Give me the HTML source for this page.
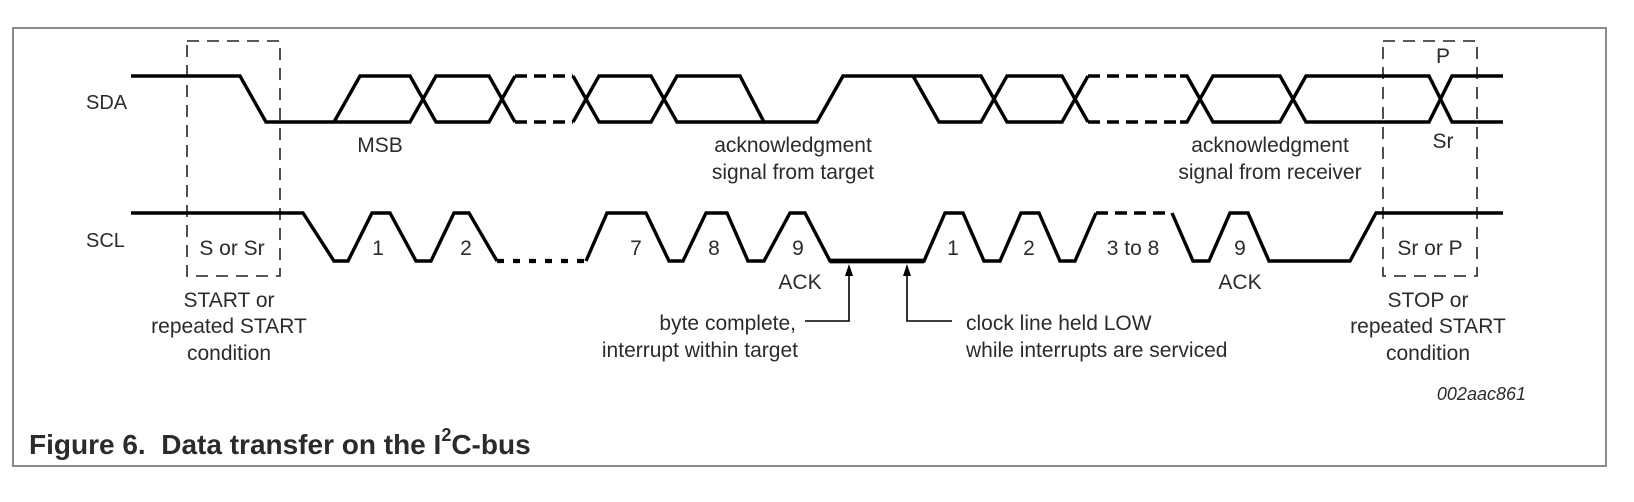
<!DOCTYPE html>
<html><head><meta charset="utf-8"><style>
html,body{margin:0;padding:0;background:#fff;}
svg{display:block;}
text{font-family:"Liberation Sans",Arial,sans-serif;fill:#2b2b2b;}
</style></head><body>
<svg width="1634" height="502" viewBox="0 0 1634 502" xmlns="http://www.w3.org/2000/svg">
<rect x="13" y="28" width="1593" height="438" fill="#fff" stroke="#8a8a8a" stroke-width="2"/>
<!-- dashed boxes -->
<g fill="none" stroke="#222" stroke-width="1.6" stroke-dasharray="12 8">
<rect x="187" y="41" width="93" height="235"/>
<rect x="1383" y="41" width="94" height="235"/>
</g>
<!-- SDA -->
<g fill="none" stroke="#000" stroke-width="3.4" stroke-linejoin="miter">
<path d="M131,76 H240 L266,122 H410 L436,76 H489 L515,122"/>
<path d="M334,122 L360,76 H410 L436,122 H489 L515,76"/>
<path d="M573,76 L599,122 H651 L677,76 H740 L764,122 H817 L843,76 H981 L1007,122 H1062 L1088,76"/>
<path d="M573,122 L599,76 H651 L677,122 H764"/>
<path d="M913,76 L939,122 H981 L1007,76 H1062 L1088,122"/>
<path d="M1180,76 H1187 L1213,122 H1280 L1306,76 H1429 L1452,122 H1503"/>
<path d="M1180,122 H1187 L1213,76 H1280 L1306,122 H1429 L1452,76 H1503"/>
<path d="M515,76 H573 M515,122 H573 M1088,76 H1180 M1088,122 H1180" stroke-dasharray="12 7"/>
<!-- SCL -->
<path d="M131,213 H303 L334,261 H348 L372,213 H390 L416,261 H431 L454,213 H469 L497,261"/>
<path d="M497,261 H586" stroke-dasharray="7 9" stroke-width="4.2"/>
<path d="M586,261 L607,213 H646 L669,261 H683 L706,213 H727 L748,261 H764 L790,213 H805 L830,261 H924 L945,213 H963 L984,261 H1000 L1021,213 H1039 L1060,261 H1075 L1096,213"/>
<path d="M1096,213 H1172" stroke-dasharray="12 7"/>
<path d="M1172,213 L1193,261 H1209 L1230,213 H1248 L1269,261 H1350 L1376,213 H1503"/>
<path d="M830,261 H924" stroke-width="4.8"/>
</g>
<!-- leaders & arrows -->
<g fill="none" stroke="#000" stroke-width="1.6">
<path d="M805,321 H849 V268"/>
<path d="M952,321 H907 V268"/>
</g>
<path d="M849,264 L845,276 L853,276 Z M907,264 L903,276 L911,276 Z" fill="#000"/>
<!-- labels -->
<g font-size="20">
<text x="86" y="109">SDA</text>
<text x="86" y="247">SCL</text>
</g>
<g font-size="21" text-anchor="middle">
<text x="232" y="255">S or Sr</text>
<text x="378" y="255">1</text>
<text x="466" y="255">2</text>
<text x="636" y="255">7</text>
<text x="714" y="255">8</text>
<text x="798" y="255">9</text>
<text x="800" y="289">ACK</text>
<text x="953" y="255">1</text>
<text x="1029" y="255">2</text>
<text x="1133" y="255">3 to 8</text>
<text x="1240" y="255">9</text>
<text x="1240" y="289">ACK</text>
<text x="1430" y="255">Sr or P</text>
<text x="1443" y="63">P</text>
<text x="1443" y="148">Sr</text>
<text x="380" y="152">MSB</text>
<text x="793" y="152">acknowledgment</text>
<text x="793" y="179">signal from target</text>
<text x="1270" y="152">acknowledgment</text>
<text x="1270" y="179">signal from receiver</text>
<text x="229" y="307">START or</text>
<text x="229" y="333">repeated START</text>
<text x="229" y="360">condition</text>
<text x="1428" y="307">STOP or</text>
<text x="1428" y="333">repeated START</text>
<text x="1428" y="360">condition</text>
</g>
<g font-size="21">
<text x="796" y="330" text-anchor="end">byte complete,</text>
<text x="798" y="357" text-anchor="end">interrupt within target</text>
<text x="966" y="330">clock line held LOW</text>
<text x="966" y="357">while interrupts are serviced</text>
</g>
<text x="1526" y="400" font-size="18" font-style="italic" text-anchor="end">002aac861</text>
<text x="29" y="454" font-size="28" font-weight="bold" fill="#333">Figure 6.&#160;&#160;Data transfer on the I<tspan font-size="18" dy="-13">2</tspan><tspan dy="13">C-bus</tspan></text>
</svg>
</body></html>
